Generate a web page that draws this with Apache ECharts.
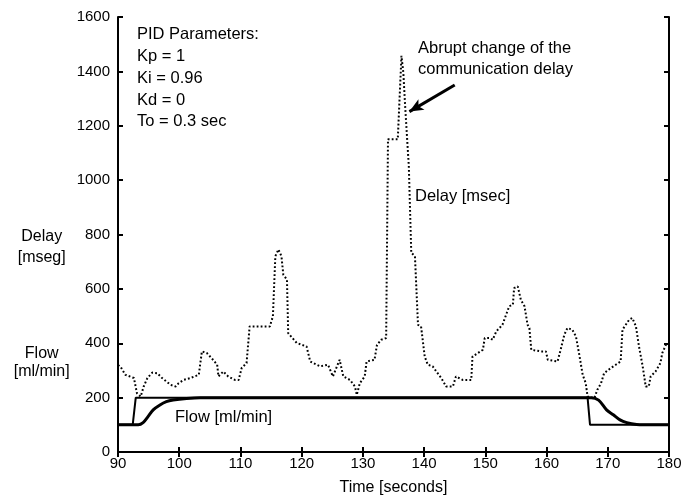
<!DOCTYPE html>
<html>
<head>
<meta charset="utf-8">
<script src="https://cdn.jsdelivr.net/npm/echarts@6/dist/echarts.min.js"></script>
<style>
  html, body { margin: 0; padding: 0; background: #fff; }
  #chart { width: 683px; height: 495px; }
</style>
</head>
<body>
<div id="chart"></div>
<script>
// Communication delay (msec) over time, dotted trace
var delayTime = [90, 90.4, 91.2, 92.6, 93.1, 93.7, 94.2, 94.8, 95.6, 96.4, 97.2, 98.6, 99.4, 99.9, 100.7, 101.8, 103.2, 103.7, 104.5, 105.3, 106.2, 106.4, 107.2, 108.0, 109.1, 109.7, 110.2, 111.0, 111.5, 114.8, 115.3, 115.7, 116.2, 116.7, 117.0, 117.6, 117.8, 119.2, 120.8, 121.4, 121.9, 123.0, 124.3, 125.1, 126.2, 126.8, 127.9, 128.7, 129.0, 129.5, 130.3, 130.6, 131.9, 132.3, 133.0, 133.8, 134.1, 135.7, 136.3, 136.6, 136.9, 137.2, 137.5, 137.9, 138.5, 139.0, 139.5, 140.1, 140.6, 141.4, 142.0, 142.8, 143.6, 144.7, 145.2, 146.3, 147.7, 147.9, 148.8, 149.6, 149.9, 150.7, 151.2, 151.8, 152.8, 153.9, 154.5, 154.7, 155.3, 155.8, 156.4, 156.9, 157.2, 157.5, 159.1, 159.9, 160.2, 161.8, 162.3, 162.9, 163.4, 164.2, 164.8, 165.3, 165.9, 166.4, 166.7, 167.8, 168.3, 168.9, 169.4, 170.5, 171.3, 172.1, 172.4, 173.5, 174.0, 174.6, 175.1, 175.7, 176.2, 176.7, 177.0, 177.8, 178.6, 178.9, 179.5, 180];
var delayValue = [320, 314, 284, 272, 216, 204, 241, 272, 292, 290, 272, 247, 241, 253, 265, 272, 284, 370, 364, 345, 321, 278, 296, 278, 265, 265, 309, 327, 462, 462, 499, 720, 745, 720, 652, 634, 437, 401, 388, 333, 327, 315, 321, 278, 339, 278, 265, 241, 210, 253, 278, 333, 339, 394, 413, 419, 1150, 1150, 1457, 1396, 1273, 1162, 1052, 733, 720, 468, 462, 351, 321, 315, 296, 272, 241, 241, 278, 265, 265, 351, 364, 376, 419, 419, 413, 444, 468, 536, 542, 603, 609, 560, 536, 468, 456, 376, 370, 370, 339, 333, 376, 431, 456, 450, 425, 364, 284, 253, 204, 198, 229, 253, 290, 309, 321, 333, 450, 487, 493, 462, 388, 315, 241, 241, 278, 296, 327, 364, 394, 400];

// Flow set-point (ml/min), step profile
var setpointTime = [90, 92.4, 92.9, 166.7, 167.1, 180];
var setpointValue = [100, 100, 200, 200, 100, 100];

// Measured flow (ml/min)
var flowTime = [90, 93.0, 93.3, 94.1, 94.9, 95.75, 96.85, 97.9, 99.0, 101.2, 103.4, 167.3, 168.5, 169.8, 170.9, 172.0, 173.1, 174.7, 176.0, 180];
var flowValue = [100, 100, 100, 108, 130, 155, 173, 185, 191, 197, 200, 200, 191, 155, 137, 118, 108, 101, 100, 100];

// Axis ticks
var xTicks = [90, 100, 110, 120, 130, 140, 150, 160, 170, 180];
var yTicks = [0, 200, 400, 600, 800, 1000, 1200, 1400, 1600];

// Annotation arrow endpoints (time, value)
var arrowFrom = [145.0, 1350];
var arrowTo = [137.6, 1252];

var pidLines = ['PID Parameters:', 'Kp = 1', 'Ki = 0.96', 'Kd = 0', 'To = 0.3 sec'];

function zip(a, b) { return a.map(function (x, i) { return [x, b[i]]; }); }

var FONT = 'Liberation Sans, Arial, sans-serif';
var TXT = '16.5px ' + FONT;
var chart = echarts.init(document.getElementById('chart'), null, { renderer: 'canvas' });

var axisLine = { show: true, lineStyle: { color: '#000', width: 2 } };
var tick = { show: true, inside: true, length: 5, lineStyle: { color: '#000', width: 2 } };

chart.setOption({
  animation: false,
  backgroundColor: '#fff',
  grid: { left: 118, right: 14, top: 17, bottom: 43, containLabel: false, outerBoundsMode: 'none' },
  xAxis: [{
    type: 'value', min: xTicks[0], max: xTicks[xTicks.length - 1], interval: 10,
    axisLine: axisLine, axisTick: tick, splitLine: { show: false },
    axisLabel: { color: '#000', fontFamily: FONT, fontSize: 15, margin: 4,
      formatter: function (v) { return String(v); } },
    name: 'Time [seconds]', nameLocation: 'middle', nameGap: 28,
    nameTextStyle: { color: '#000', fontFamily: FONT, fontSize: 16 }
  }, {
    type: 'value', position: 'top', min: xTicks[0], max: xTicks[xTicks.length - 1], interval: 10,
    axisLine: axisLine, axisTick: tick, axisLabel: { show: false }, splitLine: { show: false }
  }],
  yAxis: [{
    type: 'value', min: yTicks[0], max: yTicks[yTicks.length - 1], interval: 200,
    axisLine: axisLine, axisTick: tick, splitLine: { show: false },
    axisLabel: { color: '#000', fontFamily: FONT, fontSize: 15, margin: 8,
      formatter: function (v) { return String(v); } }
  }, {
    type: 'value', position: 'right', min: yTicks[0], max: yTicks[yTicks.length - 1], interval: 200,
    axisLine: axisLine, axisTick: tick, axisLabel: { show: false }, splitLine: { show: false }
  }],
  series: [{
    name: 'Delay [msec]', type: 'line', data: zip(delayTime, delayValue),
    symbol: 'none', lineStyle: { color: '#000', width: 2, type: [1.8, 2.2] },
    markLine: {
      silent: true, symbol: ['none', 'arrow'], symbolSize: [9, 14],
      label: { show: false },
      lineStyle: { color: '#000', width: 3, type: 'solid' },
      data: [[{ coord: arrowFrom }, { coord: arrowTo }]]
    }
  }, {
    name: 'Set-point', type: 'line', data: zip(setpointTime, setpointValue),
    symbol: 'none', lineStyle: { color: '#000', width: 2 }
  }, {
    name: 'Flow [ml/min]', type: 'line', data: zip(flowTime, flowValue),
    symbol: 'none', smooth: 0.3, lineStyle: { color: '#000', width: 3 }
  }],
  graphic: [
    { type: 'text', x: 137, y: 78.3, style: { text: pidLines.join('\n'), fill: '#000', font: TXT, lineHeight: 21.7, verticalAlign: 'middle' } },
    { type: 'text', x: 418, y: 58.5, style: { text: 'Abrupt change of the\ncommunication delay', fill: '#000', font: TXT, lineHeight: 21, verticalAlign: 'middle' } },
    { type: 'text', x: 415, y: 196, style: { text: 'Delay [msec]', fill: '#000', font: TXT, verticalAlign: 'middle' } },
    { type: 'text', x: 175, y: 417, style: { text: 'Flow [ml/min]', fill: '#000', font: TXT, verticalAlign: 'middle' } },
    { type: 'text', x: 41.7, y: 247.3, style: { text: 'Delay\n[mseg]', fill: '#000', font: '16px ' + FONT, align: 'center', verticalAlign: 'middle', lineHeight: 21.3 } },
    { type: 'text', x: 41.7, y: 362.5, style: { text: 'Flow\n[ml/min]', fill: '#000', font: '16px ' + FONT, align: 'center', verticalAlign: 'middle', lineHeight: 18.4 } }
  ]
});
</script>
</body>
</html>
